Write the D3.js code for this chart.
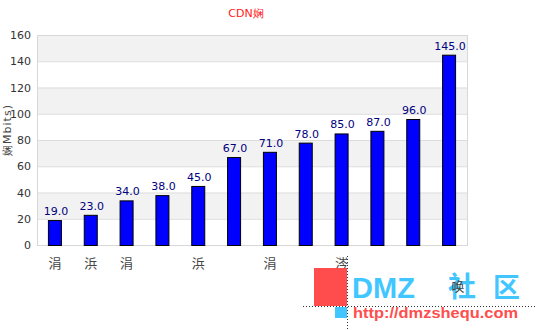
<!DOCTYPE html>
<html>
<head>
<meta charset="utf-8">
<script src="https://cdn.jsdelivr.net/npm/d3@7"></script>
<style>
  body { margin: 0; background: #fff; }
  svg { font-family: "DejaVu Sans", sans-serif; }
</style>
</head>
<body>
<div id="chart"></div>
<script>
// data
var categories = ["涓", "浜", "涓", "", "浜", "", "涓", "", "涔", "", "", ""];
var values = [19, 23, 34, 38, 45, 67, 71, 78, 85, 87, 96, 145];
var yTicks = [0, 20, 40, 60, 80, 100, 120, 140, 160];
var title = "CDN娴";
var yLabel = "娴Mbits)";

const W = 537, H = 330;
const margin = { left: 37, right: 70, top: 35, bottom: 85 };
var width = W - margin.left - margin.right,
    height = H - margin.top - margin.bottom;

var svg = d3.select("#chart").append("svg")
  .attr("width", W).attr("height", H);

var g = svg.append("g")
  .attr("transform", "translate(" + margin.left + "," + margin.top + ")");

const x = d3.scaleBand().domain(d3.range(values.length)).range([0, width]);
const y = d3.scaleLinear().domain([0, 160]).range([height, 0]);

// alternating bands
g.selectAll(".band")
  .data(yTicks.slice(0, -1))
  .enter().append("rect")
  .attr("x", 0)
  .attr("y", d => y(d + 20))
  .attr("width", width)
  .attr("height", d => y(d) - y(d + 20))
  .attr("fill", (d, i) => i % 2 ? "#f2f2f2" : "#fff");

// grid lines
g.selectAll(".grid")
  .data(yTicks)
  .enter().append("line")
  .attr("x1", 0).attr("x2", width)
  .attr("y1", d => y(d) + 0.5).attr("y2", d => y(d) + 0.5)
  .attr("stroke", "#dcdcdc");

g.append("rect")
  .attr("x", 0.5).attr("y", 0.5)
  .attr("width", width).attr("height", height)
  .attr("fill", "none").attr("stroke", "#d8d8d8");

// y axis labels
g.selectAll(".ytick")
  .data(yTicks)
  .enter().append("text")
  .attr("x", -6)
  .attr("y", d => y(d) + 4)
  .attr("text-anchor", "end")
  .attr("font-size", 11)
  .attr("fill", "#333")
  .text(d => d);

svg.append("text")
  .attr("transform", "translate(11,130) rotate(-90)")
  .attr("text-anchor", "middle")
  .attr("font-size", 11)
  .attr("letter-spacing", 1)
  .attr("fill", "#444")
  .text(yLabel);

// bars
var bw = 14;
g.selectAll(".bar")
  .data(values)
  .enter().append("rect")
  .attr("x", (d, i) => x(i) + x.bandwidth() / 2 - bw / 2 + 0.5)
  .attr("y", d => y(d) + 0.5)
  .attr("width", bw - 1)
  .attr("height", d => height - y(d))
  .attr("fill", "#0000ff")
  .attr("stroke", "#000")
  .attr("stroke-width", 1);

g.selectAll(".val")
  .data(values)
  .enter().append("text")
  .attr("x", (d, i) => x(i) + x.bandwidth() / 2 + 1)
  .attr("y", d => y(d) - 5)
  .attr("text-anchor", "middle")
  .attr("font-size", 11)
  .attr("fill", "#000080")
  .text(d => d.toFixed(1));

// x labels
g.selectAll(".xlab")
  .data(categories)
  .enter().append("text")
  .attr("x", (d, i) => x(i) + x.bandwidth() / 2)
  .attr("y", height + 23)
  .attr("text-anchor", "middle")
  .attr("font-size", 13)
  .style("font-family", "'Noto Sans CJK SC'")
  .attr("fill", "#444")
  .text(d => d);

svg.append("text")
  .attr("x", 246).attr("y", 17)
  .attr("text-anchor", "middle")
  .attr("font-size", 11)
  .attr("fill", "#ff2020")
  .text(title);

// watermark
var wm = svg.append("g");
wm.append("rect").attr("x", 314).attr("y", 268).attr("width", 33).attr("height", 38).attr("fill", "#ff4d4d");
wm.append("rect").attr("x", 335).attr("y", 307).attr("width", 12).attr("height", 11).attr("fill", "#42c6ff");
wm.append("line").attr("x1", 347.5).attr("x2", 347.5).attr("y1", 256).attr("y2", 330)
  .attr("stroke", "#333").attr("stroke-dasharray", "1,2");
wm.append("line").attr("x1", 303).attr("x2", 537).attr("y1", 306.5).attr("y2", 306.5)
  .attr("stroke", "#333").attr("stroke-dasharray", "1,2");
wm.append("text").attr("x", 352).attr("y", 298)
  .attr("font-size", 29).attr("font-weight", "bold")
  .style("font-family", "'Liberation Sans'")
  .attr("textLength", 63)
  .attr("fill", "#42c6ff").text("DMZ");
wm.append("text").attr("x", 448).attr("y", 297)
  .attr("font-size", 28).attr("font-weight", "bold")
  .style("font-family", "'Noto Sans CJK SC'")
  .attr("fill", "#42c6ff").text("社");
wm.append("text").attr("x", 493).attr("y", 297)
  .attr("font-size", 27).attr("font-weight", "bold")
  .style("font-family", "'Noto Sans CJK SC'")
  .attr("fill", "#42c6ff").text("区");
wm.append("text").attr("x", 458).attr("y", 291)
  .attr("text-anchor", "middle")
  .attr("font-size", 13)
  .style("font-family", "'Noto Sans CJK SC'")
  .attr("fill", "#444").text("唤");
wm.append("text").attr("x", 353).attr("y", 318)
  .attr("font-size", 15).attr("font-weight", "bold")
  .style("font-family", "'Liberation Sans'")
  .attr("textLength", 165)
  .attr("lengthAdjust", "spacingAndGlyphs")
  .attr("fill", "#ff4d4d").text("http://dmzshequ.com");
</script>
</body>
</html>
